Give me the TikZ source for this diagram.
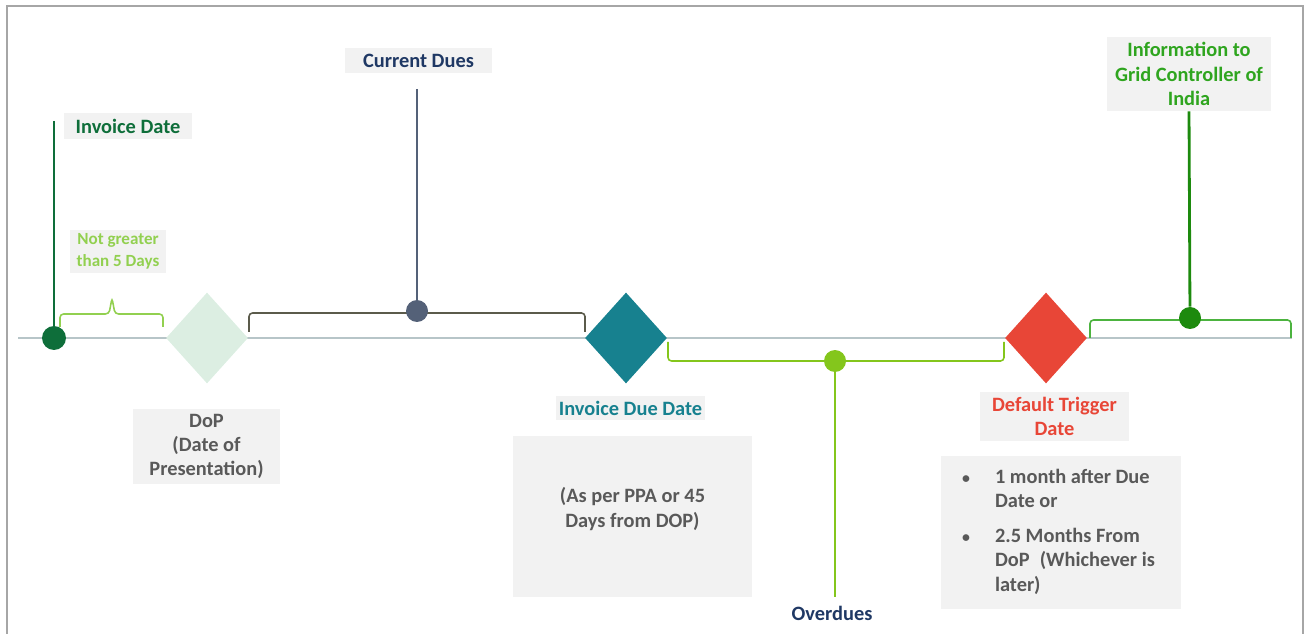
\documentclass[tikz,border=0pt]{standalone}
\usepackage{fontspec}
\setmainfont{Carlito}
\usepackage{xcolor}
\usepackage{tikz}
\usetikzlibrary{shapes.geometric, positioning, calc}
\definecolor{dkgreen}{HTML}{0E6E3A}
\definecolor{ltgreen}{HTML}{92D050}
\definecolor{dopgreen}{HTML}{DCEEE2}
\definecolor{tlgray}{HTML}{B7C5C8}
\definecolor{slate}{HTML}{546178}
\definecolor{navy}{HTML}{1F3864}
\definecolor{brkgray}{HTML}{5B5B4B}
\definecolor{teal}{HTML}{17818F}
\definecolor{ovgreen}{HTML}{84C61C}
\definecolor{trigred}{HTML}{E84637}
\definecolor{gridgreen}{HTML}{2FA51F}
\definecolor{griddot}{HTML}{1D8A0E}
\definecolor{gridbrk}{HTML}{4CB33F}
\definecolor{txtgray}{HTML}{595959}
\definecolor{boxgray}{HTML}{F2F2F2}
\definecolor{framegray}{HTML}{A6A6A6}
\tikzset{
  lbl/.style={rectangle, fill=boxgray, inner sep=0pt, align=center,
              font=\fontsize{11.6}{13.9}\selectfont\bfseries},
  note/.style={lbl, text=txtgray},
  milestone/.style={diamond, inner sep=0pt, minimum width=1.64cm,
                    minimum height=1.82cm},
  evdot/.style={circle, inner sep=0pt, minimum size=0.44cm},
  stem/.style={line width=1.6pt},
  brk/.style={line width=0.9pt, rounded corners=2pt},
}

\begin{document}
\begin{tikzpicture}[x=0.02cm, y=-0.02cm]
  \useasboundingbox (0,0) rectangle (1307,634);
  \draw[framegray, line width=1.2pt] (7,640) -- (7,6) -- (1303,6) -- (1303,640);

  % Timeline
  \coordinate (tlL) at (18,338);
  \coordinate (tlR) at (1292,338);
  \draw[tlgray, line width=1.7pt] (tlL) -- (tlR);

  % Brackets
  \draw[brk, ltgreen] (60,327) -- (60,314) -- (109,314) -- (112,298)
                      -- (115,314) -- (163,314) -- (163,327);
  \draw[brk, brkgray] (249,332) -- (249,313) -- (585,313) -- (585,332);
  \draw[brk, ovgreen] (668,342) -- (668,361) -- (1004,361) -- (1004,342);
  \draw[brk, gridbrk] (1090,338) -- (1090,320) -- (1291,320) -- (1291,338);

  % Milestones
  \node[milestone, fill=dopgreen] (dop)  at (207,338)  {};
  \node[milestone, fill=teal]     (due)  at (626,338)  {};
  \node[milestone, fill=trigred]  (trig) at (1046,338) {};

  % Dots
  \node[evdot, fill=dkgreen, minimum size=0.48cm] (invdot) at (54,338) {};
  \node[evdot, fill=slate]   (curdot)  at (417,311)  {};
  \node[evdot, fill=ovgreen] (ovdot)   at (835,361)  {};
  \node[evdot, fill=griddot] (griddot) at (1190,318) {};

  % Labels
  \node[lbl, text=dkgreen, minimum width=2.56cm, minimum height=0.52cm]
       (invlbl) at (128,126) {Invoice Date};
  \node[lbl, text=ltgreen, minimum width=1.92cm, minimum height=0.86cm,
        font=\fontsize{9.7}{12.4}\selectfont\bfseries]
       (gaplbl) at (118,251.5) {Not greater\\than 5 Days};
  \node[lbl, text=navy, minimum width=2.94cm, minimum height=0.5cm]
       (curlbl) at (418.5,60.5) {Current Dues};
  \node[note, minimum width=2.94cm, minimum height=1.5cm]
       (doplbl) at (206.5,446.5) {DoP\\(Date of\\Presentation)};
  \node[lbl, text=teal, minimum width=2.98cm, minimum height=0.48cm]
       (duelbl) at (630.5,408) {Invoice Due Date};
  \node[note, minimum width=4.78cm, minimum height=3.22cm]
       (ppalbl) at (632.5,516.5) {(As per PPA or 45\\Days from DOP)\\[-0.13cm]};
  \node[lbl, text=trigred, minimum width=2.98cm, minimum height=0.98cm]
       (triglbl) at (1054.5,416.5) {Default Trigger\\Date};
  \node[note, minimum width=4.8cm, minimum height=3.06cm, align=left]
       (rulelbl) at (1061,532.5) {%
    \begin{tabular}{@{}p{0.66cm}@{}p{3.3cm}@{}}
      {\small\textbullet} & 1 month after Due\\
                  & Date or\\[0.2cm]
      {\small\textbullet} & 2.5 Months From\\
                  & DoP\enspace(Whichever is\\
                  & later)
    \end{tabular}};
  \node[lbl, text=gridgreen, minimum width=3.28cm, minimum height=1.48cm]
       (gridlbl) at (1189,74) {Information to\\Grid Controller of\\India};
  \node[lbl, text=navy, fill=none] (ovlbl) at (832,613) {Overdues};

  % Stems
  \coordinate (invtop) at (54,121);
  \coordinate (curtop) at (417,89);
  \coordinate (ovbot)  at (835,597);
  \draw[stem, dkgreen] (invtop) -- (invdot);
  \draw[stem, slate]   (curtop) -- (curdot);
  \draw[stem, ovgreen] (ovdot)  -- (ovbot);
  \draw[stem, griddot] (gridlbl.south) -- (griddot);
\end{tikzpicture}
\end{document}
